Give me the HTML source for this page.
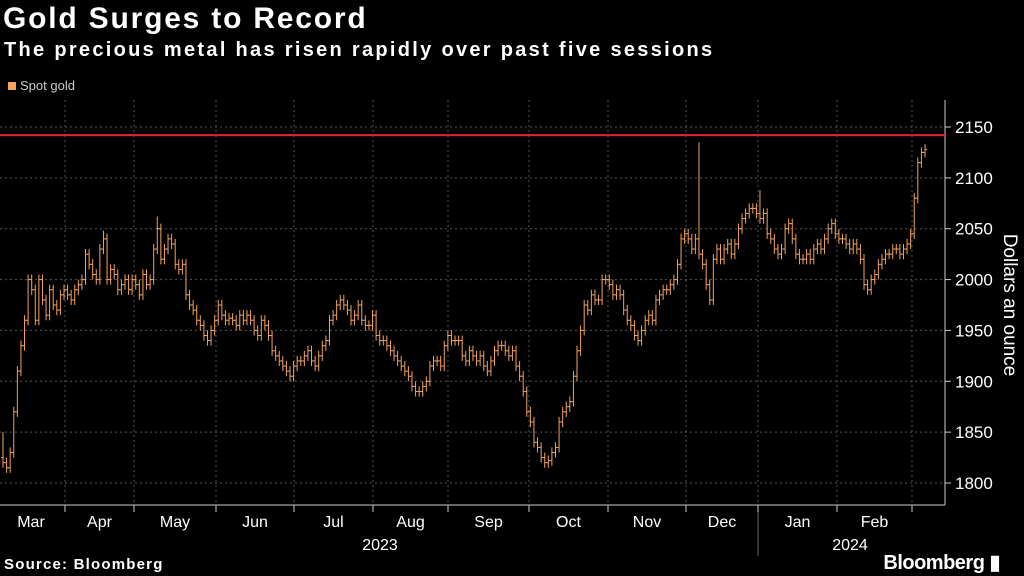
<!DOCTYPE html>
<html><head><meta charset="utf-8"><style>
body{margin:0;background:#000;width:1024px;height:576px;overflow:hidden;font-family:"Liberation Sans",sans-serif;color:#fff}
.t{position:absolute;left:3px;top:2px;font-size:30px;font-weight:bold;letter-spacing:1.8px}
.s{position:absolute;left:4px;top:39px;font-size:20px;font-weight:bold;letter-spacing:2.3px}
.lg{position:absolute;left:8px;top:78px;font-size:13px;color:#ccc}
.lg span{display:inline-block;width:8px;height:8px;background:#f5a55a;margin-right:4px}
.src{position:absolute;left:4px;top:556px;font-size:15px;font-weight:bold;letter-spacing:1.2px}
.bb{position:absolute;right:24px;top:550px;font-size:20px;font-weight:bold;letter-spacing:-0.5px}
</style></head><body>
<div class="t">Gold Surges to Record</div>
<div class="s">The precious metal has risen rapidly over past five sessions</div>
<div class="lg"><span></span>Spot gold</div>
<svg id="c" width="1024" height="576" style="position:absolute;left:0;top:0"></svg>
<div class="src">Source: Bloomberg</div>
<div class="bb">Bloomberg ▮</div>
<script>
const closes=[1820,1815,1830,1870,1910,1935,1960,2000,1990,1960,2000,1980,1965,1990,1975,1970,1985,1990,1985,1980,1990,1995,2000,
2025,2015,2005,2000,2030,2040,2000,2010,2005,1990,1995,2000,1990,2000,1995,1985,2005,1995,2000,
2030,2050,2020,2030,2040,2035,2015,2010,2015,1985,1975,1970,1960,1955,1945,1940,1950,1960,1975,1965,1960,1962,
1960,1955,1965,1960,1965,1960,1950,1945,1960,1955,1945,1930,1925,1920,1915,1910,1905,1915,1920,1920,
1925,1930,1920,1915,1925,1935,1940,1960,1965,1975,1980,1975,1970,1960,1965,1975,1960,1955,1955,1965,
1945,1940,1940,1935,1930,1925,1920,1915,1910,1905,1895,1890,1890,1895,1900,1915,1920,1920,1915,1935,1945,1940,1940,
1940,1925,1920,1930,1925,1920,1925,1915,1910,1920,1930,1935,1935,1930,1925,1930,1915,1905,1890,1870,1860,
1840,1835,1825,1820,1822,1830,1835,1860,1870,1875,1880,1905,1930,1950,1975,1970,1985,1980,1980,2000,2000,1995,
1985,1990,1985,1970,1960,1955,1945,1940,1950,1960,1965,1960,1980,1985,1990,1990,1995,2000,2015,2040,2045,2040,
2030,2040,2025,2015,1995,1980,2020,2030,2020,2030,2035,2025,2035,2050,2060,2065,2070,2070,2065,2060,
2065,2045,2040,2030,2025,2030,2050,2055,2040,2025,2020,2020,2025,2020,2030,2035,2030,2040,2050,2055,2045,2040,
2040,2035,2030,2035,2030,2020,1995,1990,2000,2005,2015,2020,2025,2025,2030,2030,2025,2030,2035,2045,
2080,2115,2125,2128];
const spikeIdx=[0,28,43,194,211,258];
const spikeHigh=[1850,2048,2062,2135,2088,2142];
const yTicks=[1800,1850,1900,1950,2000,2050,2100,2150];
const months=["Mar","Apr","May","Jun","Jul","Aug","Sep","Oct","Nov","Dec","Jan","Feb"];
const monthTicks=[65,134,216,294,373,448,529,608,686,758,837,912];
const recordLevel=2142;
const svg=document.getElementById('c'),NS='http://www.w3.org/2000/svg';
function mk(t,a,p){const e=document.createElementNS(NS,t);for(const k in a)e.setAttribute(k,a[k]);(p||svg).appendChild(e);return e;}
const y=v=>127+(2150-v)*356/350;
const x=i=>3+i*(922/(closes.length-1));
yTicks.forEach(v=>{
 const g=mk('line',{x1:0,x2:945,y1:y(v),y2:y(v),stroke:'#555','stroke-dasharray':'2,3'});
 
 
 mk('line',{x1:945,x2:951,y1:y(v),y2:y(v),stroke:'#ccc'});
 const t=mk('text',{x:955,y:y(v)+6,fill:'#fff','font-size':17});t.textContent=v;
 
 
});
monthTicks.forEach((mx,i)=>{
 mk('line',{x1:mx,x2:mx,y1:100,y2:505,stroke:'#555','stroke-dasharray':'2,3'});
 mk('line',{x1:mx,x2:mx,y1:505,y2:512,stroke:'#ccc'});
 const prev=i==0?0:monthTicks[i-1];
 const cx=i==0?31:(prev+mx)/2;
 const t=mk('text',{x:cx,y:527,fill:'#fff','font-size':16,'text-anchor':'middle'});t.textContent=months[i];
 
 
});
mk('line',{x1:945,x2:945,y1:100,y2:505,stroke:'#ccc'});
mk('line',{x1:0,x2:945,y1:505,y2:505,stroke:'#ccc'});
mk('line',{x1:758,x2:758,y1:512,y2:556,stroke:'#666'});
let yr=mk('text',{x:380,y:550,fill:'#fff','font-size':16,'text-anchor':'middle'});yr.textContent='2023';


yr=mk('text',{x:850,y:550,fill:'#fff','font-size':16,'text-anchor':'middle'});yr.textContent='2024';


const at=mk('text',{x:0,y:0,fill:'#fff','font-size':19,'text-anchor':'middle',transform:'translate(1004,305) rotate(90)'});at.textContent='Dollars an ounce';


closes.forEach((c,i)=>{
 const o=i?closes[i-1]:c+5;
 let hi=Math.max(o,c)+5,lo=Math.min(o,c)-5;
 const k=spikeIdx.indexOf(i);if(k>=0)hi=Math.max(hi,spikeHigh[k]);
 const xx=x(i);
 const g=mk('g',{stroke:'#f2a35c','stroke-width':1});
 
 
 mk('line',{x1:xx,x2:xx,y1:y(hi),y2:y(lo)},g);
 mk('line',{x1:xx-2,x2:xx,y1:y(o),y2:y(o)},g);
 mk('line',{x1:xx,x2:xx+2,y1:y(c),y2:y(c)},g);
});
const r=mk('line',{x1:0,x2:945,y1:y(recordLevel),y2:y(recordLevel),stroke:'#e8213a','stroke-width':2});


</script>
</body></html>
